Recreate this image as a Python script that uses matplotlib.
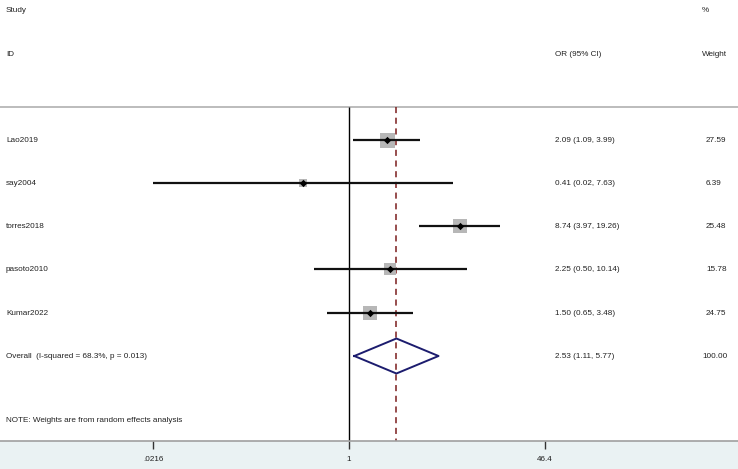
import numpy as np
import matplotlib
matplotlib.use("Agg")
import matplotlib.pyplot as plt
from matplotlib import transforms

plt.rcParams['font.family'] = ['Liberation Sans', 'DejaVu Sans']

studies = ["Lao2019", "say2004", "torres2018", "pasoto2010", "Kumar2022"]
or_est = [2.09, 0.41, 8.74, 2.25, 1.50]
ci_low = [1.09, 0.0216, 3.97, 0.50, 0.65]
ci_high = [3.99, 7.63, 19.26, 10.14, 3.48]
weights = [27.59, 6.39, 25.48, 15.78, 24.75]
overall_est = 2.53
overall_low = 1.11
overall_high = 5.77
overall_label = "Overall  (I-squared = 68.3%, p = 0.013)"
overall_weight = "100.00"
tick_values = [0.0216, 1, 46.4]
tick_labels = [".0216", "1", "46.4"]
note = "NOTE: Weights are from random effects analysis"

W, H = 738, 469
fig = plt.figure(figsize=(W / 100, H / 100), dpi=100)
fig.patch.set_facecolor('#eaf2f3')

fs = 5.9
axis_y = 441
ax = fig.add_axes([0, (H - axis_y) / H, 1, axis_y / H])
ax.set_facecolor('white')
ax.set_xscale('log')
px_per_dec = 117.6
null_px = 349
ax.set_xlim(10 ** (-null_px / px_per_dec), 10 ** ((W - null_px) / px_per_dec))
ax.set_ylim(axis_y, 0)

for s in ['top', 'left', 'right']:
    ax.spines[s].set_visible(False)
ax.spines['bottom'].set_color('#a0a0a0')
ax.spines['bottom'].set_linewidth(1.2)
ax.set_yticks([])
ax.set_xticks(tick_values)
ax.set_xticklabels(tick_labels, fontsize=fs, color='#222222')
ax.xaxis.set_minor_locator(matplotlib.ticker.NullLocator())
ax.tick_params(axis='x', length=6, width=1, color='#333333', pad=5)

top_line = 107
row_y = [140, 183, 226, 269, 313]
overall_y = 356

ax.axhline(top_line, color='#b0b0b0', lw=1.2)
ax.vlines(1, top_line, axis_y, color='black', lw=1)
ax.vlines(overall_est, top_line, axis_y, color='#7a1c1c', lw=1.1, linestyles=(0, (4, 3)))

max_side_px = 15
for i in range(len(studies)):
    y = row_y[i]
    ax.hlines(y, ci_low[i], ci_high[i], color='#111111', lw=1.6, zorder=3)
    side_pt = max_side_px * np.sqrt(weights[i] / max(weights)) * 0.72
    ax.scatter([or_est[i]], [y], marker='s', s=side_pt ** 2, color='#b7b7b7', zorder=2, linewidths=0)
    ax.scatter([or_est[i]], [y], marker='D', s=14, color='black', zorder=4, linewidths=0)

dh = 17.5
ax.plot([overall_low, overall_est, overall_high, overall_est, overall_low],
        [overall_y, overall_y - dh, overall_y, overall_y + dh, overall_y],
        color='#1c1c6e', lw=1.4, zorder=3)

trans = transforms.blended_transform_factory(ax.transAxes, ax.transData)
x_left = 6 / W
x_or = 555 / W
x_w = 702 / W
tc = '#222222'
ax.text(x_left, 10, "Study", transform=trans, fontsize=fs, va='center', color=tc)
ax.text(x_left, 54, "ID", transform=trans, fontsize=fs, va='center', color=tc)
ax.text(x_or, 54, "OR (95% CI)", transform=trans, fontsize=fs, va='center', color=tc)
ax.text(x_w, 10, "%", transform=trans, fontsize=fs, va='center', color=tc)
ax.text(x_w, 54, "Weight", transform=trans, fontsize=fs, va='center', color=tc)

for i in range(len(studies)):
    y = row_y[i]
    ax.text(x_left, y, studies[i], transform=trans, fontsize=fs, va='center', color=tc)
    ax.text(x_or, y, f"{or_est[i]:.2f} ({ci_low[i]:.2f}, {ci_high[i]:.2f})",
            transform=trans, fontsize=fs, va='center', color=tc)
    ax.text(x_w + 4 / W, y, f"{weights[i]:.2f}", transform=trans, fontsize=fs, va='center', color=tc)

ax.text(x_left, overall_y, overall_label, transform=trans, fontsize=fs, va='center', color=tc)
ax.text(x_or, overall_y, f"{overall_est:.2f} ({overall_low:.2f}, {overall_high:.2f})",
        transform=trans, fontsize=fs, va='center', color=tc)
ax.text(x_w, overall_y, overall_weight, transform=trans, fontsize=fs, va='center', color=tc)
ax.text(x_left, 420, note, transform=trans, fontsize=fs, va='center', color=tc)

fig.savefig("out.png", dpi=100, facecolor=fig.get_facecolor())
